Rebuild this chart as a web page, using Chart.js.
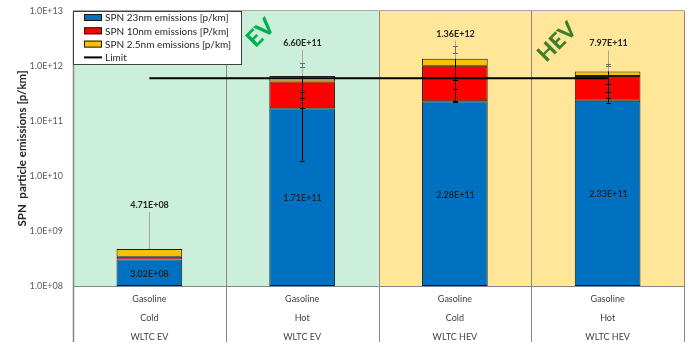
<!DOCTYPE html>
<html><head><meta charset="utf-8">
<script src="https://cdn.jsdelivr.net/npm/chart.js@4/dist/chart.umd.min.js"></script>
<style>html,body{margin:0;padding:0;background:#fff}#wrap{width:688px;height:345px}</style>
</head><body><div id="wrap"><canvas id="c" width="688" height="345"></canvas></div>
<script>
// ---- data ----
const categories = [
  ["Gasoline", "Cold", "WLTC EV"],
  ["Gasoline", "Hot", "WLTC EV"],
  ["Gasoline", "Cold", "WLTC HEV"],
  ["Gasoline", "Hot", "WLTC HEV"]
];
const groupNames = ["EV", "HEV"];
const groupOf = [0, 0, 1, 1];
const seriesLabels = ["SPN 23nm emissions [p/km]", "SPN 10nm emissions [P/km]", "SPN 2.5nm emissions [p/km]", "Limit"];
const spn23 = [3.02e8, 1.71e11, 2.28e11, 2.33e11];
const spn10 = [3.9e7, 3.49e11, 7.8e11, 4.27e11];
const spn25 = [1.3e8, 1.4e11, 3.5e11, 1.37e11];
const totals = [4.71e8, 6.60e11, 1.36e12, 7.97e11];
const limitValues = [6e11, 6e11, 6e11, 6e11];
const err23 = [null, [1.9e10, 1.71e11], [2.25e11, 2.32e11], [2.1e11, 2.6e11]];
const err10 = [null, [2.6e11, 3.4e11], [3.8e11, 5.6e11], [3.4e11, 4.8e11]];
const err25 = [null, [9.6e11, 1.13e12], [1.7e12, 2.3e12], [1.0e12, 1.1e12]];
const yTicks = [1e8, 1e9, 1e10, 1e11, 1e12, 1e13];

// ---- style ----
const FONT = 'Lato, "Open Sans", sans-serif';
Chart.defaults.font.family = FONT;
const COLORS = ["#0070c0", "#ff0000", "#ffc000"];
const GROUP_BG = ["#ccefdb", "#ffe699"];
const GROUP_TEXT = ["#00b050", "#3f7f2a"];
const LINE_GRAY = "#868686";
const labelLift = [44, 33, 25, 28];

function fmtExp(v) {
  if (v === 0) return "0";
  const e = Math.floor(Math.log10(v) + 1e-9);
  const m = v / Math.pow(10, e);
  const es = (e < 0 ? "-" : "+") + String(Math.abs(e)).padStart(2, "0");
  return m.toFixed(2) + "E" + es;
}
function fmtTick(v) {
  const e = Math.round(Math.log10(v));
  return "1.0E" + (e < 0 ? "-" : "+") + String(Math.abs(e)).padStart(2, "0");
}

const decor = {
  id: "decor",
  beforeDatasetsDraw(chart) {
    const { ctx, chartArea: a } = chart;
    const n = categories.length, w = a.width / n;
    ctx.save();
    for (let i = 0; i < n; i++) {
      ctx.fillStyle = GROUP_BG[groupOf[i]];
      ctx.fillRect(a.left + i * w, a.top, w, a.height);
    }
    ctx.strokeStyle = LINE_GRAY;
    ctx.lineWidth = 1;
    for (let i = 0; i <= n; i++) {
      const x = Math.round(a.left + i * w) + 0.5;
      ctx.beginPath();
      ctx.lineWidth = i === 0 ? 1.5 : 1;
      ctx.moveTo(x, a.top);
      ctx.lineTo(x, chart.height - 3);
      ctx.stroke();
    }
    ctx.lineWidth = 1;
    ctx.beginPath();
    ctx.moveTo(a.left, Math.round(a.bottom) + 0.5);
    ctx.lineTo(a.right, Math.round(a.bottom) + 0.5);
    ctx.stroke();
    ctx.strokeStyle = "#a6a6a6";
    ctx.beginPath();
    ctx.moveTo(a.left, Math.round(a.top) - 0.5);
    ctx.lineTo(a.right, Math.round(a.top) - 0.5);
    ctx.stroke();
    // group labels
    const gOffsets = [35, 26];
    const gY = [33, 42];
    const gSize = [23, 22];
    groupNames.forEach((g, gi) => {
      const last = groupOf.lastIndexOf(gi);
      const x0 = a.left + last * w + gOffsets[gi];
      ctx.save();
      ctx.translate(x0, gY[gi]);
      ctx.rotate(-Math.PI / 4);
      ctx.fillStyle = GROUP_TEXT[gi];
      ctx.font = "900 " + gSize[gi] + "px " + FONT;
      ctx.textAlign = "center";
      ctx.textBaseline = "middle";
      ctx.fillText(g, 0, 0);
      ctx.restore();
    });
    ctx.restore();
  },
  afterDatasetsDraw(chart) {
    const { ctx, scales: { x, y } } = chart;
    ctx.save();
    const errs = [err23, err10, err25];
    for (let i = 0; i < categories.length; i++) {
      const cx = Math.round(x.getPixelForValue(i)) + 0.5;
      const topPx = y.getPixelForValue(totals[i]);
      const ly = topPx - labelLift[i];
      ctx.strokeStyle = "#a6a6a6";
      ctx.lineWidth = 1;
      ctx.beginPath();
      ctx.moveTo(cx, ly + 7);
      ctx.lineTo(cx, topPx);
      ctx.stroke();
      ctx.fillStyle = "#262626";
      ctx.font = "bold 9px " + FONT;
      ctx.textAlign = "center";
      ctx.textBaseline = "middle";
      ctx.fillText(fmtExp(totals[i]), cx, ly);
      const by = (y.getPixelForValue(spn23[i]) + y.getPixelForValue(y.min)) / 2;
      ctx.fillText(fmtExp(spn23[i]), cx, by + 1);
      let lows = [];
      errs.forEach(s => { if (s[i]) lows.push(s[i][0]); });
      if (lows.length) {
        const minLow = Math.min(...lows);
        ctx.strokeStyle = "#000";
        ctx.lineWidth = 1;
        ctx.beginPath();
        ctx.moveTo(cx, y.getPixelForValue(minLow));
        ctx.lineTo(cx, topPx);
        ctx.stroke();
        errs.forEach(s => {
          if (!s[i]) return;
          const [lo, hi] = s[i];
          const pl = y.getPixelForValue(lo), ph = y.getPixelForValue(hi);
          ctx.strokeStyle = ph < topPx ? "#6f6f6f" : "#000";
          ctx.beginPath();
          ctx.moveTo(cx, pl); ctx.lineTo(cx, ph);
          ctx.stroke();
          [pl, ph].forEach(p => {
            ctx.strokeStyle = p < topPx - 1 ? "#6f6f6f" : "#000";
            ctx.beginPath();
            ctx.moveTo(cx - 2.5, Math.round(p) + 0.5);
            ctx.lineTo(cx + 2.5, Math.round(p) + 0.5);
            ctx.stroke();
          });
        });
      }
    }
    ctx.restore();
  },
  afterDraw(chart) {
    const { ctx, chartArea: a } = chart;
    ctx.save();
    const bx = a.left, by = a.top, bw = 168, bh = 53;
    ctx.fillStyle = "#fff";
    ctx.fillRect(bx, by, bw, bh);
    ctx.strokeStyle = "#404040";
    ctx.lineWidth = 1;
    ctx.strokeRect(Math.round(bx) + 0.5, Math.round(by) + 0.5, bw, bh);
    chart.data.datasets.forEach((ds, k) => {
      const ry = by + 6.5 + k * 13.3;
      if (ds.type === "line") {
        ctx.strokeStyle = "#000";
        ctx.lineWidth = 2;
        ctx.beginPath();
        ctx.moveTo(bx + 11, ry); ctx.lineTo(bx + 29, ry);
        ctx.stroke();
      } else {
        ctx.fillStyle = ds.backgroundColor;
        ctx.fillRect(bx + 11, ry - 3.5, 18, 7);
        ctx.strokeStyle = "#1a1a1a";
        ctx.lineWidth = 1;
        ctx.strokeRect(bx + 11.5, ry - 3, 17, 6);
      }
      ctx.fillStyle = "#262626";
      ctx.font = "10px " + FONT;
      ctx.textAlign = "left";
      ctx.textBaseline = "middle";
      ctx.fillText(ds.label, bx + 32, ry + 0.5);
    });
    ctx.restore();
  }
};

const barDs = (label, data, color) => ({
  type: "bar", label, data, backgroundColor: color, borderColor: "#1a1a1a",
  borderWidth: 1, borderSkipped: false, stack: "s", order: 1,
  barPercentage: 0.43, categoryPercentage: 1
});

new Chart(document.getElementById("c"), {
  data: {
    labels: categories,
    datasets: [
      barDs(seriesLabels[0], spn23, COLORS[0]),
      barDs(seriesLabels[1], spn10, COLORS[1]),
      barDs(seriesLabels[2], spn25, COLORS[2]),
      { type: "line", label: seriesLabels[3], data: limitValues, borderColor: "#000",
        borderWidth: 2, pointRadius: 0, stack: "limit", order: 0, fill: false }
    ]
  },
  plugins: [decor],
  options: {
    responsive: false, animation: false, devicePixelRatio: 1,
    layout: { padding: { top: 11, right: 4, left: 0, bottom: 0 } },
    plugins: { legend: { display: false }, tooltip: { enabled: false } },
    scales: {
      x: {
        stacked: true,
        grid: { display: false, drawTicks: false },
        border: { display: false },
        ticks: { color: "#404040", font: { size: 9, lineHeight: "19px" }, padding: 3.5, maxRotation: 0, autoSkip: false },
        afterFit(s) { s.height = 59; s.paddingLeft = 0; s.paddingRight = 0; }
      },
      y: {
        type: "logarithmic", stacked: true, min: 1e8, max: 1e13,
        grid: { display: false, drawTicks: false },
        border: { display: false },
        afterBuildTicks(s) { s.ticks = yTicks.map(v => ({ value: v })); },
        ticks: { color: "#595959", font: { size: 9 }, padding: 10, callback: v => fmtTick(v) },
        title: { display: true, text: "SPN  particle emissions [p/km]", color: "#262626",
          font: { size: 11.5, weight: "bold" }, padding: { top: 15, bottom: 0 } },
        afterFit(s) { s.width = 73; s.paddingTop = 0; s.paddingBottom = 0; }
      }
    }
  }
});
</script></body></html>
